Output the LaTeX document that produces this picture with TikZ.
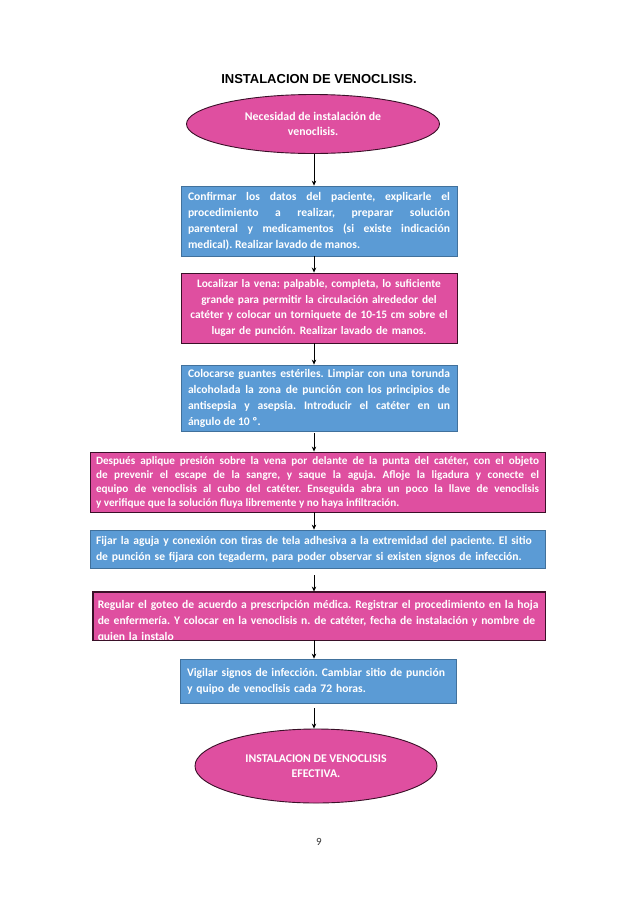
\documentclass[tikz,border=0pt]{standalone}
\usepackage{fontspec}
\setmainfont{Carlito}
\newfontfamily\arialfont{Liberation Sans}
\usetikzlibrary{arrows.meta,shapes.geometric}
\definecolor{boxblue}{HTML}{5B9BD5}
\definecolor{blueedge}{HTML}{41719C}
\definecolor{boxpink}{HTML}{DF4FA0}
\definecolor{pinkedge}{HTML}{3A1028}
\tikzset{
  bluebox/.style={draw=blueedge, line width=0.8pt, fill=boxblue, text=white, font=\bfseries\fontsize{11.6}{16}\selectfont, inner xsep=7pt, inner ysep=2pt, rectangle},
  pinkbox/.style={draw=pinkedge, line width=0.9pt, fill=boxpink, text=white, font=\bfseries\fontsize{11.6}{16}\selectfont, inner xsep=7pt, inner ysep=2pt, rectangle},
  oval/.style={ellipse, draw=pinkedge, line width=0.9pt, fill=boxpink, text=white, font=\bfseries\fontsize{11.8}{15}\selectfont, align=center, inner sep=0pt},
  arr/.style={-{Stealth[length=5pt,width=4.5pt]}, line width=0.7pt, black}
}
\frenchspacing
\begin{document}
\begin{tikzpicture}[x=1pt,y=-1pt]
\useasboundingbox[fill=white] (0,0) rectangle (638,903);

\node[font=\arialfont\bfseries\fontsize{13}{15}\selectfont] (title) at (319,79) {INSTALACION DE VENOCLISIS.};

\node[oval, minimum width=253pt, minimum height=59pt] (e1) at (313,124) {Necesidad de instalación de\\venoclisis.};

\node[bluebox, minimum width=276pt, minimum height=70pt, text width=262pt, align=justify] (b1) at (319,221)
{Confirmar los datos del paciente, explicarle el\linebreak procedimiento a realizar, preparar solución\linebreak parenteral y medicamentos (si existe indicación\linebreak medical). Realizar lavado de manos.};

\node[pinkbox, minimum width=276pt, minimum height=70pt, text width=266pt, inner xsep=5pt, align=center, font=\bfseries\fontsize{11.4}{15.5}\selectfont] (b2) at (319,308)
{Localizar la vena: palpable, completa, lo suficiente\\grande para permitir la circulación alrededor del\\catéter y colocar un torniquete de 10-15 cm sobre el\\lugar de punción. Realizar lavado de manos.};

\node[bluebox, minimum width=276pt, minimum height=66pt, text width=262pt, align=justify] (b3) at (319,398)
{Colocarse guantes estériles. Limpiar con una torunda\linebreak alcoholada la zona de punción con los principios de\linebreak antisepsia y asepsia. Introducir el catéter en un\linebreak ángulo de 10 º.};

\node[pinkbox, minimum width=455pt, minimum height=60pt, text width=443pt, align=justify, font=\bfseries\fontsize{11.2}{14}\selectfont, inner xsep=6pt] (b4) at (317.5,482)
{Después aplique presión sobre la vena por delante de la punta del catéter, con el objeto\linebreak de prevenir el escape de la sangre, y saque la aguja. Afloje la ligadura y conecte el\linebreak equipo de venoclisis al cubo del catéter. Enseguida abra un poco la llave de venoclisis\linebreak y verifique que la solución fluya libremente y no haya infiltración.};

\node[bluebox, minimum width=455pt, minimum height=38pt, text width=443pt, align=left, inner xsep=6pt] (b5) at (317.5,549)
{Fijar la aguja y conexión con tiras de tela adhesiva a la extremidad del paciente. El sitio\\de punción se fijara con tegaderm, para poder observar si existen signos de infección.};

\node[pinkbox, minimum width=452pt, minimum height=48pt] (b6) at (319,616) {};
\begin{scope}
\clip (b6.north west) rectangle (b6.south east);
\node[anchor=north west, text=white, font=\bfseries\fontsize{11.6}{16}\selectfont, text width=445pt, align=left, inner sep=0pt] (t6) at ([xshift=5pt,yshift=-8.5pt]b6.north west)
{Regular el goteo de acuerdo a prescripción médica. Registrar el procedimiento en la hoja\\de enfermería. Y colocar en la venoclisis n. de catéter, fecha de instalación y nombre de\\quien la instalo};
\end{scope}
\draw[draw=pinkedge, line width=0.9pt] (b6.north west) rectangle (b6.south east);

\node[bluebox, minimum width=274pt, minimum height=44pt, text width=262pt, align=left] (b7) at (318,681)
{Vigilar signos de infección. Cambiar sitio de punción\\y quipo de venoclisis cada 72 horas.\vphantom{g}\\[-3pt]};

\node[oval, minimum width=242pt, minimum height=74pt] (e2) at (316,766) {INSTALACION DE VENOCLISIS\\EFECTIVA.};

\node[font=\fontsize{11}{12}\selectfont, text=black!80] (pg) at (319,842) {9};

\coordinate (ax) at (314,0);
\draw[arr] (e1.south -| ax) -- (b1.north -| ax);
\draw[arr] (b1.south -| ax) -- (b2.north -| ax);
\draw[arr] (b2.south -| ax) -- (b3.north -| ax);
\draw[arr, shorten <=2pt] (b3.south -| ax) -- (b4.north -| ax);
\draw[arr] (b4.south -| ax) -- (b5.north -| ax);
\draw[arr, shorten <=7pt] (b5.south -| ax) -- (b6.north -| ax);
\draw[arr] (b6.south -| ax) -- (b7.north -| ax);
\draw[arr, shorten <=5pt] (b7.south -| ax) -- (e2.north -| ax);
\end{tikzpicture}
\end{document}
